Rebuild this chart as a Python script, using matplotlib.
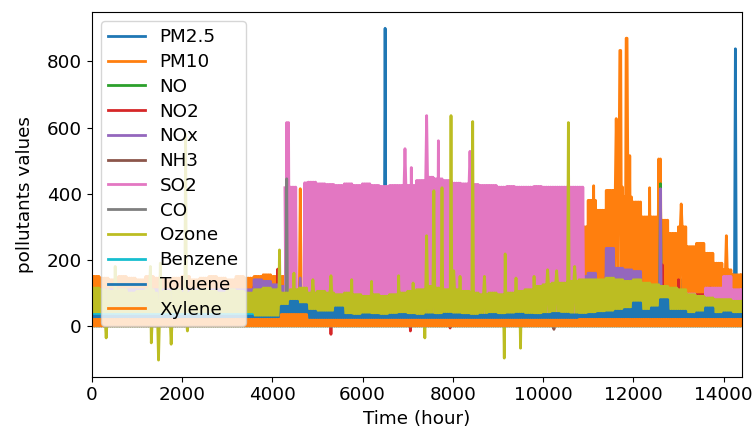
import matplotlib
matplotlib.use('Agg')
import matplotlib.pyplot as plt
import numpy as np

matplotlib.rcParams['font.size'] = 13.2
matplotlib.rcParams['lines.linewidth'] = 2.0

# hourly readings, summarised as upper / lower level per 200-hour block (72 blocks)
pollutants = ['PM2.5', 'PM10', 'NO', 'NO2', 'NOx', 'NH3', 'SO2', 'CO',
              'Ozone', 'Benzene', 'Toluene', 'Xylene']

pm25_hi = [70] * 21 + [90] * 33 + [140] * 18
pm25_lo = [10] * 72
pm10_hi = ([150, 145, 140, 150, 145, 140, 150, 145, 140, 145, 150, 140, 145, 150, 145, 140, 150, 145]
           + [150, 155, 150, 150] + [110] * 32
           + [300, 380, 350, 410, 420, 390, 375, 330, 330, 320, 280, 300, 240, 250, 220, 190, 170, 155])
pm10_lo = [20] * 54 + [30] * 18
no_hi = [50] * 18 + [30] * 54
no_lo = [2] * 72
no2_hi = [90] * 18 + [120] * 4 + [60] * 32 + [95] * 18
no2_lo = [5] * 72
nox_hi = ([110] * 18 + [140, 135, 125, 120] + [80] * 32
          + [150, 160, 130, 235, 175, 170, 165, 120, 120, 110, 105, 100, 90, 90, 90, 90, 90, 90])
nox_lo = [10] * 72
nh3_hi = [40] * 18 + [30] * 54
nh3_lo = [5] * 72
so2_hi = ([40] * 21
          + [418, 420, 433, 435, 430, 428, 425, 430, 425, 430, 425, 422, 425, 425, 425, 440, 450,
             445, 440, 432, 430, 428, 425, 425, 420, 422, 420, 420, 422, 420, 420, 420, 420, 420]
          + [50] * 11 + [97, 80, 115, 115, 150, 110])
so2_lo = [5] * 21 + [30] * 34 + [5] * 11 + [30] * 6
co_hi = [3] * 72
co_lo = [0] * 72
ozone_hi = ([115, 110, 105, 110, 100, 105, 110, 100, 105, 110, 100, 105, 110, 105, 100, 110, 105, 100]
            + [110, 115, 110, 100]
            + [110, 115, 100, 105, 100, 95, 100, 95, 90, 95, 90, 95, 100, 105, 110, 120, 115, 110,
               110, 105, 100, 95, 100, 95, 100, 105, 110, 120, 125, 130, 130, 135]
            + [140, 140, 140, 145, 140, 135, 140, 130, 125, 120, 115, 110, 95, 90, 85, 80, 80, 75])
ozone_lo = [15] * 72
benzene_hi = [35] * 18 + [5] * 54
benzene_lo = [0] * 72
toluene_hi = ([30] * 18 + [25] * 3 + [60, 75, 65, 45, 40, 40, 55]
              + [32, 30, 34, 32, 30, 33, 35, 32, 30, 34, 32, 36, 34, 32, 30, 33, 35, 32, 34, 36,
                 33, 32, 35, 38, 36, 34, 33, 35, 38, 40, 45]
              + [50, 70, 45, 55, 80, 45, 45, 35, 40, 55, 35, 40, 35])
toluene_lo = [8] * 72
xylene_hi = [20] * 21 + [35] * 3 + [18] * 30 + [20] * 18
xylene_lo = [0] * 72

# single-hour extremes (hour, value)
spikes = {
    'PM2.5': [(6500, 900), (14260, 838)],
    'PM10': [(4620, 415), (11110, 424), (11620, 627), (11700, 833), (11720, 833), (11840, 870),
             (11860, 870), (11910, 515), (12350, 418), (12560, 505), (12600, 505), (13060, 369),
             (14060, 273)],
    'NO': [(12600, 430)],
    'NO2': [(4110, 172), (5300, -25), (7060, -15), (7940, -6), (12650, 185), (13000, 140),
            (13700, 115)],
    'NOx': [(4620, 145), (12600, 415)],
    'NH3': [(10230, -10)],
    'SO2': [(4330, 615), (4350, 615), (6940, 536), (7070, 479), (7420, 636), (7680, 560),
            (8380, 528)],
    'CO': [(4310, 445)],
    'Ozone': [(320, -36), (520, 180), (1300, 180), (1320, -51), (1480, -103), (1520, 190),
              (1760, -55), (2080, 580), (2120, -15), (4170, 230), (4470, 160), (4900, 140),
              (5300, 152), (5750, 140), (6200, 135), (6800, 152), (7120, 130), (7380, -36),
              (7420, 273), (7580, 409), (7760, 418), (7960, 636), (8020, 167), (8160, 150),
              (8440, 618), (8700, 150), (9140, -97), (9160, 218), (9400, 145), (9500, -67),
              (9800, 150), (10100, 170), (10300, 167), (10560, 615), (10700, 180)],
}
# hours with no SO2 readings
so2_gaps = [(0, 4280), (4560, 4700), (10920, 11000)]

levels = {
    'PM2.5': (pm25_hi, pm25_lo), 'PM10': (pm10_hi, pm10_lo), 'NO': (no_hi, no_lo),
    'NO2': (no2_hi, no2_lo), 'NOx': (nox_hi, nox_lo), 'NH3': (nh3_hi, nh3_lo),
    'SO2': (so2_hi, so2_lo), 'CO': (co_hi, co_lo), 'Ozone': (ozone_hi, ozone_lo),
    'Benzene': (benzene_hi, benzene_lo), 'Toluene': (toluene_hi, toluene_lo),
    'Xylene': (xylene_hi, xylene_lo),
}

step = 20
hours = np.arange(0, 14400 + step, step)
block = np.minimum(hours // 200, 71)


def build(name):
    hi, lo = levels[name]
    y = np.where(np.arange(hours.size) % 2 == 0,
                 np.asarray(hi, float)[block], np.asarray(lo, float)[block])
    for h, v in spikes.get(name, []):
        y[int(round(h / step))] = v
    if name == 'SO2':
        for a, b in so2_gaps:
            y[(hours >= a) & (hours < b)] = np.nan
    return y


fig = plt.figure(figsize=(7.53, 4.28), dpi=100)
ax = fig.add_axes([0.1218, 0.1199, 0.8632, 0.8528])

for name in pollutants:
    ax.plot(hours, build(name), label=name)

ax.set_xlim(0, 14400)
ax.set_xlabel('Time (hour)')
ax.set_ylabel('pollutants values', labelpad=9)
ax.legend(loc='upper left', labelspacing=0.37)

fig.savefig('out.png', dpi=100)
